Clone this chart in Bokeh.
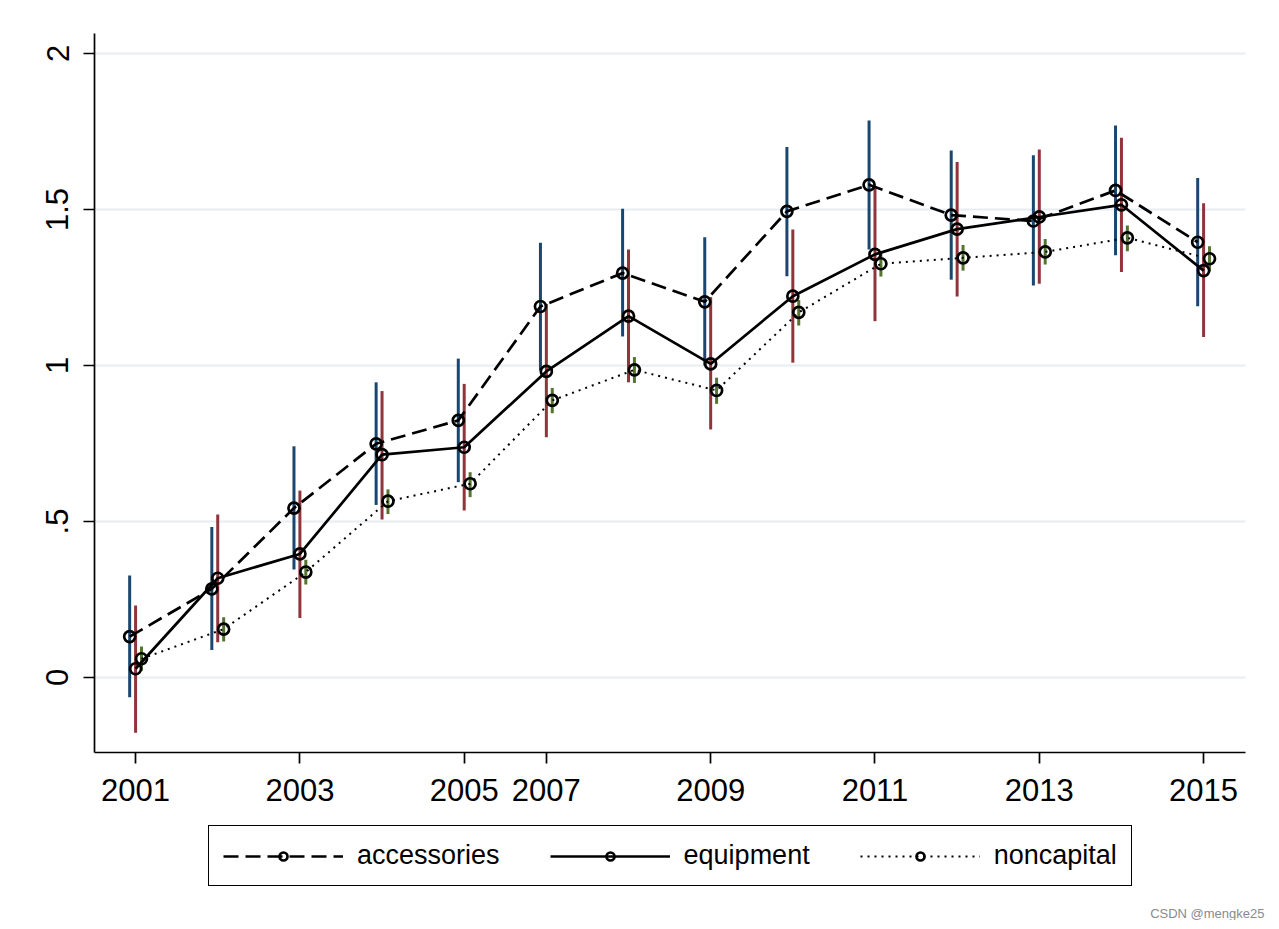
import numpy as np
from bokeh.plotting import figure
from bokeh.layouts import column
from bokeh.models import FixedTicker, Legend, LegendItem, Title, Range1d
from bokeh.embed import file_html
from bokeh.resources import INLINE

years = [2001, 2002, 2003, 2004, 2005, 2007, 2008, 2009, 2010, 2011, 2012, 2013, 2014, 2015]

accessories = [0.131, 0.284, 0.543, 0.749, 0.824, 1.189, 1.296, 1.204, 1.494, 1.579, 1.482, 1.463, 1.561, 1.395]
accessories_lo = [-0.063, 0.088, 0.346, 0.553, 0.626, 0.984, 1.093, 1.000, 1.286, 1.372, 1.275, 1.256, 1.353, 1.190]
accessories_hi = [0.327, 0.482, 0.741, 0.946, 1.022, 1.393, 1.502, 1.411, 1.700, 1.785, 1.689, 1.674, 1.769, 1.601]

equipment = [0.028, 0.318, 0.396, 0.714, 0.738, 0.981, 1.158, 1.005, 1.222, 1.356, 1.437, 1.476, 1.515, 1.304]
equipment_lo = [-0.177, 0.113, 0.191, 0.506, 0.535, 0.770, 0.946, 0.795, 1.009, 1.142, 1.221, 1.262, 1.300, 1.091]
equipment_hi = [0.231, 0.522, 0.599, 0.918, 0.941, 1.197, 1.372, 1.219, 1.436, 1.569, 1.652, 1.692, 1.730, 1.520]

noncapital = [0.060, 0.155, 0.338, 0.565, 0.621, 0.888, 0.986, 0.920, 1.170, 1.326, 1.345, 1.364, 1.409, 1.342]
noncapital_lo = [0.022, 0.115, 0.298, 0.524, 0.578, 0.847, 0.944, 0.877, 1.128, 1.285, 1.304, 1.324, 1.366, 1.301]
noncapital_hi = [0.099, 0.193, 0.377, 0.603, 0.658, 0.928, 1.027, 0.961, 1.210, 1.366, 1.386, 1.405, 1.449, 1.382]

series_names = ["accessories", "equipment", "noncapital"]
tick_years = [2001, 2003, 2005, 2007, 2009, 2011, 2013, 2015]
y_ticks = [0, 0.5, 1, 1.5, 2]
y_tick_labels = ["0", ".5", "1", "1.5", "2"]
watermark = "CSDN @mengke25"

FONT = "Liberation Sans"
pos = np.arange(1, len(years) + 1, dtype=float)

FW = 1151

# ---------------- main plot ----------------
p = figure(frame_width=FW, frame_height=719,
           x_range=Range1d(0.5, 14.51), y_range=Range1d(-0.2404, 2.064),
           output_backend="svg", toolbar_location=None,
           min_border_left=94, min_border_right=30, min_border_top=33, min_border_bottom=66,
           background_fill_color="white", border_fill_color="white")
p.outline_line_color = None
p.xgrid.visible = False
p.ygrid.ticker = FixedTicker(ticks=y_ticks)
p.ygrid.grid_line_color = "#e7eef2"
p.ygrid.grid_line_width = 2

series = [
    (accessories, accessories_lo, accessories_hi, "#1a476f", "15 7", 2.7, -0.072),
    (equipment, equipment_lo, equipment_hi, "#90353b", "solid", 2.7, 0.0),
    (noncapital, noncapital_lo, noncapital_hi, "#55752f", "2 5", 2.0, 0.072),
]

for vals, lo, hi, col, dash, lw, off in series:
    p.segment(x0=pos + off, y0=lo, x1=pos + off, y1=hi, line_color=col, line_width=3)

for vals, lo, hi, col, dash, lw, off in series:
    p.line(pos + off, vals, line_color="black", line_width=lw, line_dash=dash)
    p.scatter(pos + off, vals, marker="circle", size=11, fill_color=None,
              line_color="black", line_width=2.7)

tick_pos = [years.index(y) + 1 for y in tick_years]
p.xaxis.ticker = FixedTicker(ticks=tick_pos)
p.xaxis.major_label_overrides = {tp: str(y) for tp, y in zip(tick_pos, tick_years)}
p.yaxis.ticker = FixedTicker(ticks=y_ticks)
p.yaxis.major_label_overrides = {t: l for t, l in zip(y_ticks, y_tick_labels)}
p.yaxis.major_label_orientation = "vertical"

for ax in (p.xaxis[0], p.yaxis[0]):
    ax.axis_line_color = "black"
    ax.axis_line_width = 1.7
    ax.major_tick_line_color = "black"
    ax.major_tick_line_width = 1.7
    ax.major_tick_out = 11
    ax.major_tick_in = 0
    ax.minor_tick_out = 0
    ax.minor_tick_in = 0
    ax.major_label_text_font = FONT
    ax.major_label_text_font_size = "31px"
    ax.major_label_text_color = "black"
p.xaxis.major_label_standoff = 15
p.yaxis.major_label_standoff = 15

# ---------------- legend strip (frame aligned with main plot) ----------------
H2 = 85
p2 = figure(frame_width=FW, frame_height=H2,
            x_range=Range1d(0, FW), y_range=Range1d(0, H2),
            output_backend="svg", toolbar_location=None,
            x_axis_location=None, y_axis_location=None,
            min_border_left=94, min_border_right=30, min_border_top=0, min_border_bottom=0,
            background_fill_color="white", border_fill_color="white")
p2.outline_line_color = None
p2.grid.visible = False

items = []
for name, (vals, lo, hi, col, dash, lw, off) in zip(series_names, series):
    lr = p2.line(x=[np.nan], y=[np.nan], line_color="black", line_width=lw, line_dash=dash)
    sr = p2.scatter(x=[np.nan], y=[np.nan], marker="circle", size=11, fill_color=None,
                    line_color="black", line_width=2.7)
    items.append(LegendItem(label=name, renderers=[lr, sr]))

legend = Legend(items=items, orientation="horizontal", location=(114, 17),
                glyph_width=120, glyph_height=20, label_standoff=14, spacing=50,
                padding=14, border_line_color="black", border_line_width=1.5,
                border_line_alpha=1.0, background_fill_color="white", background_fill_alpha=1.0,
                label_text_font=FONT, label_text_font_size="27px", label_text_color="black",
                margin=0)
p2.add_layout(legend, "center")

wm = Title(text=watermark, align="right", offset=-19, standoff=0,
           text_font=FONT, text_font_size="13px", text_font_style="normal", text_color="#8a8a8a")
p2.add_layout(wm, "below")

layout = column(p, p2, spacing=0)
open("out.html", "w").write(file_html(layout, INLINE))
